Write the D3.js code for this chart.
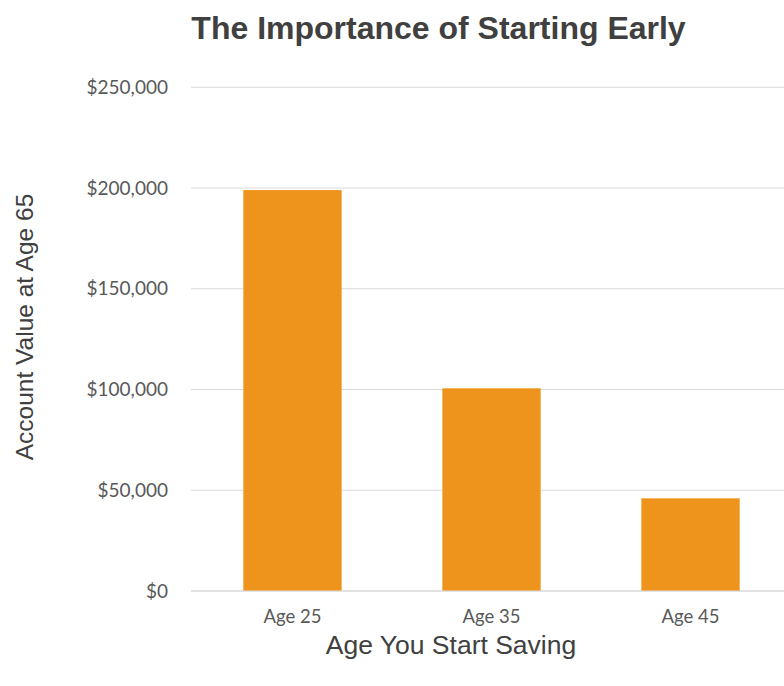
<!DOCTYPE html>
<html><head><meta charset="utf-8">
<script src="https://cdn.jsdelivr.net/npm/d3@7"></script>
<style>html,body{margin:0;padding:0;background:#fff;overflow:hidden}</style>
</head><body>
<svg id="c" width="784" height="686"></svg>
<script>
const categories = ["Age 25", "Age 35", "Age 45"];
const values = [199000, 100600, 46000];
const yTicks = [0, 50000, 100000, 150000, 200000, 250000];
const title = "The Importance of Starting Early";
const xTitle = "Age You Start Saving";
const yTitle = "Account Value at Age 65";

const svg = d3.select("#c");
const x = d3.scaleBand().domain(categories).range([193, 790]).paddingInner(0.506).paddingOuter(0.253);
const y = d3.scaleLinear().domain([0, 250000]).range([591, 87.3]);
const fmt = v => "$" + d3.format(",")(v);

// gridlines
svg.append("g").selectAll("line").data(yTicks).join("line")
  .attr("x1", 191).attr("x2", 784)
  .attr("y1", d => y(d)).attr("y2", d => y(d))
  .attr("stroke", "#d9d9d9").attr("stroke-width", 1);

// y axis labels
const yAxis = svg.append("g").attr("transform", "translate(168,0)")
  .call(d3.axisLeft(y).tickValues(yTicks).tickFormat(fmt).tickSize(0).tickPadding(0));
yAxis.select(".domain").remove();
yAxis.selectAll("text").attr("fill", "#595959").style("font-family", "Lato, 'Open Sans', sans-serif").style("font-size", "19px");

// bars
svg.append("g").selectAll("rect").data(values).join("rect")
  .attr("x", (d, i) => x(categories[i]))
  .attr("width", x.bandwidth())
  .attr("y", d => y(d))
  .attr("height", d => y(0) - y(d))
  .attr("fill", "#ee931c");

// baseline
svg.append("line").attr("x1", 191).attr("x2", 784).attr("y1", y(0)).attr("y2", y(0))
  .attr("stroke", "#d9d9d9").attr("stroke-width", 1);

// x axis labels
const xAxis = svg.append("g").attr("transform", `translate(0,${y(0)})`)
  .call(d3.axisBottom(x).tickSize(0).tickPadding(19));
xAxis.select(".domain").remove();
xAxis.selectAll("text").attr("fill", "#595959").style("font-family", "Lato, 'Open Sans', sans-serif").style("font-size", "18.5px");

// titles
svg.append("text").attr("x", 438.5).attr("y", 39).attr("text-anchor", "middle")
  .style("font-family", "'Liberation Sans', Arial, sans-serif").style("font-weight", "bold")
  .style("font-size", "32px").attr("fill", "#404040").text(title);
svg.append("text").attr("x", 451).attr("y", 654).attr("text-anchor", "middle")
  .style("font-family", "'Liberation Sans', Arial, sans-serif")
  .style("font-size", "26.5px").attr("fill", "#404040").text(xTitle);
svg.append("text").attr("transform", "translate(33,327) rotate(-90)").attr("text-anchor", "middle")
  .style("font-family", "'Liberation Sans', Arial, sans-serif")
  .style("font-size", "24.5px").attr("fill", "#404040").text(yTitle);
</script>
</body></html>
